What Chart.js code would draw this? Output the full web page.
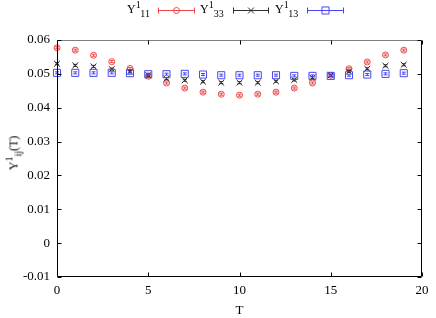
<!DOCTYPE html>
<html>
<head>
<meta charset="utf-8">
<script src="https://cdn.jsdelivr.net/npm/chart.js@4/dist/chart.umd.min.js"></script>
<style>
body { margin: 0; background: #fff; }
#wrap { position: relative; width: 436px; height: 318px; font-family: "Liberation Serif", serif; color: #000; }
.lbl { position: absolute; font-size: 12px; line-height: 12px; white-space: nowrap; }
.sup, .sub { font-size: 10px; position: relative; }
.sup { top: -5px; }
.sub { top: 4px; }
#ytitle { position: absolute; left: 14px; top: 153px; font-size: 12px; transform: translate(-50%, -50%) rotate(-90deg); }
</style>
</head>
<body>
<div id="wrap">
<canvas id="c" width="436" height="318"></canvas>
<div class="lbl" id="ytitle">Y<span class="sup">1</span><span class="sub">ij</span>(T)</div>
</div>
<script>
// T values and the three correlators
var T = [0, 1, 2, 3, 4, 5, 6, 7, 8, 9, 10, 11, 12, 13, 14, 15, 16, 17, 18, 19];
var Y11 = [0.0577, 0.0570, 0.0555, 0.0536, 0.0516, 0.0493, 0.0473, 0.0458, 0.0446, 0.0440,
           0.0437, 0.0440, 0.0446, 0.0458, 0.0473, 0.0496, 0.0515, 0.0535, 0.0556, 0.0570];
var Y33 = [0.0530, 0.0525, 0.0522, 0.0514, 0.0507, 0.0496, 0.0486, 0.0481, 0.0477, 0.0474,
           0.0474, 0.0474, 0.0478, 0.0482, 0.0489, 0.0496, 0.0507, 0.0515, 0.0524, 0.0527];
var Y13 = [0.0503, 0.0503, 0.0503, 0.0503, 0.0502, 0.0499, 0.0499, 0.0500, 0.0498, 0.0496,
           0.0496, 0.0496, 0.0496, 0.0494, 0.0494, 0.0494, 0.0496, 0.0498, 0.0500, 0.0502];
var err11 = [0.0003, 0.0003, 0.0003, 0.0003, 0.0003, 0.0003, 0.0003, 0.0003, 0.0003, 0.0003,
             0.0003, 0.0003, 0.0003, 0.0003, 0.0003, 0.0003, 0.0003, 0.0003, 0.0003, 0.0003];
var err33 = [0.0003, 0.0003, 0.0003, 0.0003, 0.0003, 0.0003, 0.0003, 0.0003, 0.0003, 0.0003,
             0.0003, 0.0003, 0.0003, 0.0003, 0.0003, 0.0003, 0.0003, 0.0003, 0.0003, 0.0003];
var err13 = [0.0003, 0.0003, 0.0003, 0.0003, 0.0003, 0.0003, 0.0003, 0.0003, 0.0003, 0.0003,
             0.0003, 0.0003, 0.0003, 0.0003, 0.0003, 0.0003, 0.0003, 0.0003, 0.0003, 0.0003];
var seriesSubs = ["11", "33", "13"];
var xTicks = [0, 5, 10, 15, 20];
var yTicks = [-0.01, 0, 0.01, 0.02, 0.03, 0.04, 0.05, 0.06];

var colors = ["#f04848", "#303030", "#4848f0"];
var styles = ["circle", "crossRot", "rect"];
var radii = [3, 4.2, 5];
var legendX = [[127, 158, 195], [200, 233, 269], [275, 307, 344]];

function points(ys) {
  return T.map(function(t, i) { return { x: t, y: ys[i] }; });
}

// legend text (html so sub/superscripts work)
var wrap = document.getElementById("wrap");
seriesSubs.forEach(function(s, i) {
  var d = document.createElement("div");
  d.className = "lbl";
  d.style.left = legendX[i][0] + "px";
  d.style.top = "3px";
  d.innerHTML = 'Y<span class="sup">1</span><span class="sub">' + s + "</span>";
  wrap.appendChild(d);
});

function marker(ctx, style, r, x, y) {
  ctx.beginPath();
  if (style === "circle") {
    ctx.arc(x, y, r, 0, Math.PI * 2);
  } else if (style === "crossRot") {
    var a = r * Math.SQRT1_2;
    ctx.moveTo(x - a, y - a); ctx.lineTo(x + a, y + a);
    ctx.moveTo(x - a, y + a); ctx.lineTo(x + a, y - a);
  } else {
    var h = r * Math.SQRT1_2;
    ctx.rect(x - h, y - h, 2 * h, 2 * h);
  }
  ctx.stroke();
}

var errs = [err11, err33, err13];

var gnuplotLook = {
  id: "gnuplotLook",
  afterDatasetDraw: function(chart, args) {
    var i = args.index;
    var ctx = chart.ctx;
    var ys = chart.data.datasets[i].data;
    ctx.save();
    ctx.strokeStyle = colors[i];
    ctx.lineWidth = 1;
    ys.forEach(function(p, k) {
      var x = chart.scales.x.getPixelForValue(p.x);
      var y1 = chart.scales.y.getPixelForValue(p.y - errs[i][k]);
      var y2 = chart.scales.y.getPixelForValue(p.y + errs[i][k]);
      ctx.beginPath();
      ctx.moveTo(x, y1); ctx.lineTo(x, y2);
      ctx.moveTo(x - 2, y1); ctx.lineTo(x + 2, y1);
      ctx.moveTo(x - 2, y2); ctx.lineTo(x + 2, y2);
      ctx.stroke();
    });
    ctx.restore();
  },
  afterDraw: function(chart) {
    var ctx = chart.ctx;
    var a = chart.chartArea;
    var l = Math.round(a.left) + 0.5, r = Math.round(a.right) - 0.5;
    var t = Math.round(a.top) + 0.5, b = Math.round(a.bottom) - 0.5;
    ctx.save();
    ctx.lineWidth = 1;
    ctx.strokeStyle = "#000";
    ctx.beginPath();
    ctx.moveTo(l, t); ctx.lineTo(l, b); ctx.lineTo(r, b); ctx.lineTo(r, t);
    ctx.stroke();
    ctx.strokeStyle = "#808080";
    ctx.beginPath();
    ctx.moveTo(l, t); ctx.lineTo(r, t);
    ctx.stroke();
    ctx.strokeStyle = "#000";
    ctx.beginPath();
    xTicks.forEach(function(v) {
      var x = Math.round(chart.scales.x.getPixelForValue(v)) + 0.5;
      ctx.moveTo(x, b); ctx.lineTo(x, b - 4);
      ctx.moveTo(x, t); ctx.lineTo(x, t + 4);
    });
    yTicks.forEach(function(v) {
      var y = Math.round(chart.scales.y.getPixelForValue(v)) + 0.5;
      ctx.moveTo(l, y); ctx.lineTo(l + 4, y);
      ctx.moveTo(r, y); ctx.lineTo(r - 4, y);
    });
    ctx.stroke();
    // legend samples
    legendX.forEach(function(p, i) {
      var y = 10.5;
      ctx.strokeStyle = colors[i];
      ctx.beginPath();
      ctx.moveTo(p[1], y); ctx.lineTo(p[2], y);
      ctx.moveTo(p[1] + 0.5, y - 3); ctx.lineTo(p[1] + 0.5, y + 3);
      ctx.moveTo(p[2] - 0.5, y - 3); ctx.lineTo(p[2] - 0.5, y + 3);
      ctx.stroke();
      marker(ctx, styles[i], radii[i], (p[1] + p[2]) / 2, y);
    });
    ctx.restore();
  }
};

var font = { family: "Liberation Serif", size: 13 };

function ds(label, ys, i, order) {
  return {
    label: label,
    data: points(ys),
    showLine: false,
    pointStyle: styles[i],
    pointRadius: radii[i],
    pointHoverRadius: radii[i],
    pointBorderWidth: 1,
    borderColor: colors[i],
    backgroundColor: "rgba(0,0,0,0)",
    clip: false,
    order: order
  };
}

new Chart(document.getElementById("c"), {
  type: "scatter",
  data: {
    datasets: [
      ds("Y11", Y11, 0, 3),
      ds("Y33", Y33, 1, 2),
      ds("Y13", Y13, 2, 1)
    ]
  },
  options: {
    responsive: false,
    animation: false,
    layout: { padding: { top: 40, right: 14, left: 0, bottom: 0 } },
    plugins: { legend: { display: false }, tooltip: { enabled: false } },
    scales: {
      x: {
        type: "linear",
        min: 0, max: 20,
        afterBuildTicks: function(s) { s.ticks = xTicks.map(function(v) { return { value: v }; }); },
        afterFit: function(s) { s.height = 41; },
        ticks: { font: font, color: "#000", padding: 6 },
        grid: { display: false, drawTicks: false },
        border: { display: false },
        title: { display: true, text: "T", font: font, color: "#000", padding: { top: 0, bottom: 0 } }
      },
      y: {
        min: -0.01, max: 0.06,
        afterBuildTicks: function(s) { s.ticks = yTicks.map(function(v) { return { value: v }; }); },
        afterFit: function(s) { s.width = 57; },
        ticks: {
          font: font, color: "#000", padding: 7,
          callback: function(v) { return String(Number(v.toFixed(2))); }
        },
        grid: { display: false, drawTicks: false },
        border: { display: false }
      }
    }
  },
  plugins: [gnuplotLook]
});
</script>
</body>
</html>
